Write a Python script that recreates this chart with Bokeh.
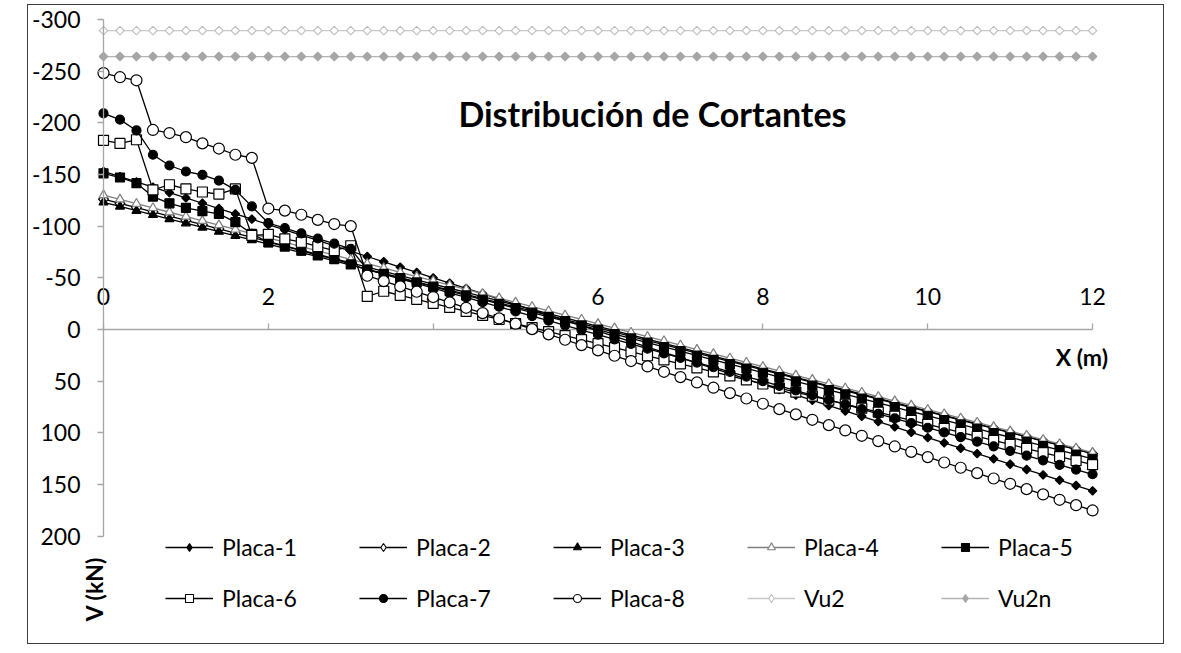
import math
from bokeh.plotting import figure
from bokeh.models import Range1d, FixedTicker, LinearAxis, Legend, LegendItem, Label
from bokeh.embed import file_html
from bokeh.resources import INLINE

# Abscissa (m), one point every 0.2 m
X = [round(0.2 * i, 1) for i in range(61)]

PLACA_1 = [-153.0, -147.9, -142.7, -137.6, -132.4, -127.3, -122.1, -117.0, -111.8, -106.7,
           -101.5, -96.4, -91.2, -86.1, -80.9, -75.8, -70.6, -65.5, -60.3, -55.2,
           -50.0, -44.9, -39.7, -34.6, -29.4, -24.3, -19.1, -14.0, -8.8, -3.7,
           1.5, 6.7, 11.8, 17.0, 22.1, 27.3, 32.4, 37.6, 42.7, 47.9,
           53.0, 58.2, 63.3, 68.5, 73.6, 78.8, 83.9, 89.1, 94.2, 99.4,
           104.5, 109.7, 114.8, 120.0, 125.1, 130.3, 135.4, 140.6, 145.7, 150.9, 156.0]
PLACA_2 = [-126.0, -121.9, -117.8, -113.7, -109.6, -105.5, -101.4, -97.3, -93.2, -89.1,
           -85.0, -80.9, -76.8, -72.7, -68.6, -64.5, -60.4, -56.3, -52.2, -48.1,
           -44.0, -39.9, -35.8, -31.7, -27.6, -23.5, -19.4, -15.3, -11.2, -7.1,
           -3.0, 1.1, 5.2, 9.3, 13.4, 17.5, 21.6, 25.7, 29.8, 33.9,
           38.0, 42.1, 46.2, 50.3, 54.4, 58.5, 62.6, 66.7, 70.8, 74.9,
           79.0, 83.1, 87.2, 91.3, 95.4, 99.5, 103.6, 107.7, 111.8, 115.9, 120.0]
PLACA_3 = [-123.0, -119.0, -114.9, -110.9, -106.8, -102.8, -98.7, -94.7, -90.6, -86.6,
           -82.5, -78.5, -74.4, -70.4, -66.3, -62.3, -58.2, -54.2, -50.1, -46.1,
           -42.0, -38.0, -33.9, -29.9, -25.8, -21.8, -17.7, -13.7, -9.6, -5.6,
           -1.5, 2.6, 6.6, 10.7, 14.7, 18.8, 22.8, 26.9, 30.9, 35.0,
           39.0, 43.1, 47.1, 51.2, 55.2, 59.3, 63.3, 67.4, 71.4, 75.5,
           79.5, 83.6, 87.6, 91.7, 95.7, 99.8, 103.8, 107.9, 111.9, 116.0, 120.0]
PLACA_4 = [-130.0, -125.9, -121.7, -117.6, -113.4, -109.3, -105.1, -101.0, -96.8, -92.7,
           -88.5, -84.4, -80.2, -76.1, -71.9, -67.8, -63.6, -59.5, -55.3, -51.2,
           -47.0, -42.9, -38.7, -34.6, -30.4, -26.3, -22.1, -18.0, -13.8, -9.7,
           -5.5, -1.4, 2.8, 6.9, 11.1, 15.2, 19.4, 23.5, 27.7, 31.8,
           36.0, 40.1, 44.3, 48.4, 52.6, 56.7, 60.9, 65.0, 69.2, 73.3,
           77.5, 81.6, 85.8, 89.9, 94.1, 98.2, 102.4, 106.5, 110.7, 114.8, 119.0]
PLACA_5 = [-151.0, -147.0, -141.5, -128.6, -122.0, -117.7, -114.4, -111.9, -103.8, -92.5,
           -84.4, -80.3, -76.4, -71.6, -68.4, -62.9, -58.0, -53.8, -49.7, -45.5,
           -41.4, -37.2, -33.0, -28.9, -24.7, -20.6, -16.4, -12.2, -8.1, -3.9,
           0.2, 4.4, 8.6, 12.7, 16.9, 21.0, 25.2, 29.4, 33.5, 37.7,
           41.8, 46.0, 50.2, 54.3, 58.5, 62.6, 66.8, 71.0, 75.1, 79.3,
           83.4, 87.6, 91.8, 95.9, 100.1, 104.2, 108.4, 112.6, 116.7, 120.9, 125.0]
PLACA_6 = [-183.0, -180.0, -183.5, -135.0, -140.0, -136.0, -133.0, -131.0, -136.0, -91.0,
           -92.0, -87.6, -84.4, -80.3, -76.4, -81.0, -32.0, -37.0, -33.1, -29.2,
           -25.3, -21.4, -17.5, -13.6, -9.7, -5.8, -1.9, 2.0, 5.9, 9.8,
           13.7, 17.6, 21.5, 25.4, 29.3, 33.2, 37.1, 41.0, 44.9, 48.8,
           52.7, 56.6, 60.5, 64.4, 68.3, 72.2, 76.1, 80.0, 83.9, 87.8,
           91.7, 95.6, 99.5, 103.4, 107.3, 111.2, 115.1, 119.0, 122.9, 126.8, 130.7]
PLACA_7 = [-209.0, -203.0, -192.5, -169.0, -158.6, -152.8, -149.6, -144.0, -135.0, -119.0,
           -103.0, -98.0, -93.0, -88.0, -83.0, -78.0, -58.0, -53.5, -49.0, -44.5,
           -40.0, -35.5, -31.0, -26.5, -22.0, -17.5, -13.0, -8.5, -4.0, 0.5,
           5.0, 9.5, 14.0, 18.5, 23.0, 27.5, 32.0, 36.5, 41.0, 45.5,
           50.0, 54.5, 59.0, 63.5, 68.0, 72.5, 77.0, 81.5, 86.0, 90.5,
           95.0, 99.5, 104.0, 108.5, 113.0, 117.5, 122.0, 126.5, 131.0, 135.5, 140.0]
PLACA_8 = [-248.0, -244.0, -241.0, -193.0, -190.0, -186.0, -180.0, -175.0, -169.0, -166.0,
           -117.0, -115.0, -111.0, -106.0, -102.0, -100.0, -52.0, -46.8, -41.7, -36.5,
           -31.4, -26.2, -21.0, -15.9, -10.7, -5.6, -0.4, 4.7, 9.9, 15.1,
           20.2, 25.4, 30.5, 35.7, 40.9, 46.0, 51.2, 56.3, 61.5, 66.7,
           71.8, 77.0, 82.1, 87.3, 92.5, 97.6, 102.8, 107.9, 113.1, 118.3,
           123.4, 128.6, 133.7, 138.9, 144.1, 149.2, 154.4, 159.5, 164.7, 169.9, 175.0]
VU2 = [-289.0] * 61
VU2N = [-264.0] * 61

Y_TICKS = [-300, -250, -200, -150, -100, -50, 0, 50, 100, 150, 200]
X_TICKS = [0, 2, 4, 6, 8, 10, 12]

FONT = "Lato"

# frame covers the whole canvas; axes are fixed at x=0 / y=0
p = figure(width=1137, height=640, output_backend="svg", toolbar_location=None, title=None,
           x_range=Range1d(-0.910, 12.885), y_range=Range1d(305.6, -313.35),
           x_axis_location=None, y_axis_location=None,
           min_border=0, min_border_left=0, min_border_right=0, min_border_top=0,
           min_border_bottom=0)
p.styles = {"margin-left": "27px", "margin-top": "4px", "border": "1px solid #404040"}
p.outline_line_color = None
p.background_fill_color = "white"
p.border_fill_color = "white"
p.grid.visible = False
for g in p.xgrid + p.ygrid:
    g.grid_line_color = None

AX_COL = "#A6A6A6"


def style_axis(ax, standoff):
    ax.axis_line_color = AX_COL
    ax.axis_line_width = 1.3
    ax.major_tick_line_color = AX_COL
    ax.major_tick_line_width = 1.3
    ax.major_tick_out = 6
    ax.major_tick_in = 0
    ax.minor_tick_line_color = None
    ax.major_label_standoff = standoff
    ax.major_label_text_font = FONT
    ax.major_label_text_font_size = "23px"
    ax.major_label_text_color = "black"


yax = LinearAxis(ticker=FixedTicker(ticks=Y_TICKS), fixed_location=0, bounds=(-300, 200))
style_axis(yax, 17)
yax.major_label_overrides = {t: str(t) for t in Y_TICKS}
p.add_layout(yax, "left")

xax = LinearAxis(ticker=FixedTicker(ticks=X_TICKS), fixed_location=0, bounds=(0, 12))
style_axis(xax, 19)
xax.level = "underlay"
p.add_layout(xax, "above")

# (name, values, chart marker, legend marker, line colour)
series = [
    ("Placa-1", PLACA_1, dict(marker="square", angle=math.pi / 4, size=6, line_color="black", fill_color="black"),
     dict(marker="diamond", line_color="black", fill_color="black"), "black"),
    ("Placa-2", PLACA_2, dict(marker="square", angle=math.pi / 4, size=7, line_color="black", fill_color="white"),
     dict(marker="diamond", line_color="black", fill_color="white"), "black"),
    ("Placa-3", PLACA_3, dict(marker="triangle", size=9, line_color="black", fill_color="black"),
     dict(marker="triangle", line_color="black", fill_color="black"), "black"),
    ("Placa-4", PLACA_4, dict(marker="triangle", size=9, line_color="#7F7F7F", fill_color="white"),
     dict(marker="triangle", line_color="#7F7F7F", fill_color="white"), "#7F7F7F"),
    ("Placa-5", PLACA_5, dict(marker="square", size=9, line_color="black", fill_color="black"),
     dict(marker="square", line_color="black", fill_color="black"), "black"),
    ("Placa-6", PLACA_6, dict(marker="square", size=10, line_color="black", fill_color="white"),
     dict(marker="square", line_color="black", fill_color="white"), "black"),
    ("Placa-7", PLACA_7, dict(marker="circle", size=9, line_color="black", fill_color="black"),
     dict(marker="circle", line_color="black", fill_color="black"), "black"),
    ("Placa-8", PLACA_8, dict(marker="circle", size=11, line_color="black", fill_color="white"),
     dict(marker="circle", line_color="black", fill_color="white"), "black"),
    ("Vu2", VU2, dict(marker="square", angle=math.pi / 4, size=6, line_color="#BFBFBF", fill_color="white"),
     dict(marker="diamond", line_color="#BFBFBF", fill_color="white"), "#C8C8C8"),
    ("Vu2n", VU2N, dict(marker="square", angle=math.pi / 4, size=6, line_color="#A6A6A6", fill_color="#A6A6A6"),
     dict(marker="diamond", line_color="#A6A6A6", fill_color="#A6A6A6"), "#B4B4B4"),
]

items = []
for name, vals, mk, lmk, lc in series:
    rl = p.line(X, vals, line_color=lc, line_width=1.3)
    p.scatter(X, vals, line_width=1.2, **mk)
    # legend-only marker, placed outside the visible x range
    proxy = p.scatter(x=[-5.0], y=[0.0], size=8, line_width=1.1, **lmk)
    items.append(LegendItem(label=name, renderers=[rl, proxy]))

legend = Legend(items=items, location=(137, 33), orientation="horizontal", ncols=5,
                glyph_width=48, glyph_height=20, label_standoff=9, label_width=114,
                label_height=20, spacing=23,
                padding=0, margin=0, border_line_color=None, background_fill_alpha=0,
                label_text_font=FONT, label_text_font_size="23px", label_text_color="black")
p.add_layout(legend)

p.add_layout(Label(x=6.66, y=-209, text="Distribución de Cortantes", text_font=FONT,
                   text_font_size="34px", text_font_style="bold", text_align="center",
                   text_baseline="middle", text_color="black"))
p.add_layout(Label(x=11.87, y=27, text="X (m)", text_font=FONT, text_font_size="23px",
                   text_font_style="bold", text_align="center", text_baseline="middle",
                   text_color="black"))
p.add_layout(Label(x=-0.12, y=251, text="V (kN)", text_font=FONT, text_font_size="23px",
                   text_font_style="bold", text_align="center", text_baseline="middle",
                   angle=math.pi / 2, text_color="black"))

open("out.html", "w").write(file_html(p, INLINE))
